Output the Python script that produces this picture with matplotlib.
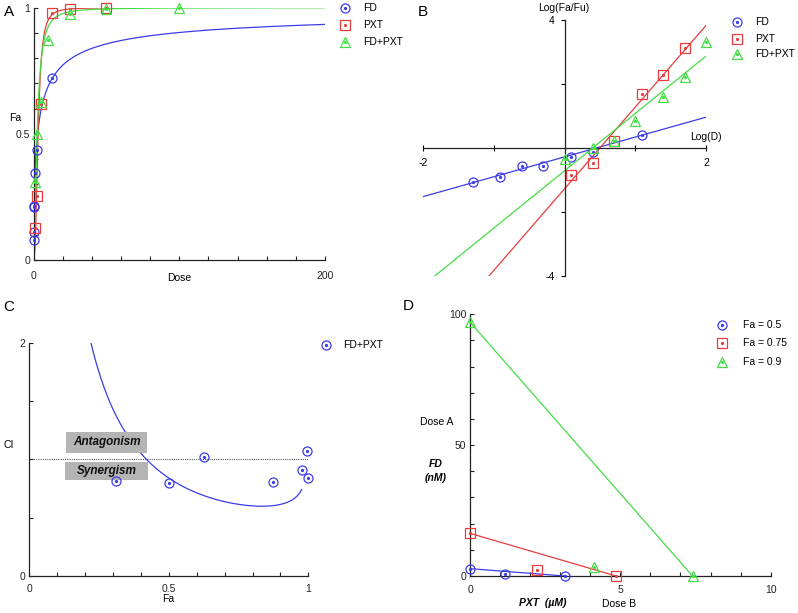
import numpy as np
import matplotlib
matplotlib.use("Agg")
import matplotlib.pyplot as plt
from matplotlib.lines import Line2D
from matplotlib.patches import Rectangle
from matplotlib.ticker import MultipleLocator, FixedLocator

plt.rcParams['font.family'] = ['Liberation Sans', 'DejaVu Sans']

W, H = 798, 613

# dose-effect data (FD in nM, PXT in uM, combination 1:1)
fd_dose = [0.05, 0.12, 0.25, 0.5, 1.25, 2.5, 12.5]
fd_fa = [0.078, 0.11, 0.21, 0.215, 0.345, 0.435, 0.72]
pxt_dose = [1.25, 2.5, 5, 12.5, 25, 50]
pxt_fa = [0.125, 0.253, 0.62, 0.98, 0.9947, 0.99925]
combo_dose = [1, 2.5, 5, 10, 25, 50, 100]
combo_fa = [0.31, 0.50, 0.625, 0.873, 0.976, 0.994, 0.9995]
combo_ci = [0.814, 0.80, 1.017, 0.806, 0.909, 1.074, 0.843]

# median-effect fits (Dm, m)
fd_fit = (2.8, 0.62)
pxt_fit = (3.15, 2.55)
combo_fit = (2.49, 1.79)

# isobologram
iso_labels = ['Fa = 0.5', 'Fa = 0.75', 'Fa = 0.9']
iso_fd_alone = [2.8, 16.3, 97]
iso_pxt_alone = [3.15, 4.86, 7.4]
iso_pxt_combo = [1.18, 2.24, 4.14]
iso_fd_combo = [0.76, 2.3, 3.6]

BLUE = '#3c3ce6'
RED = '#e83c3c'
GREEN = '#44dd44'
series = [('FD', 'o', BLUE), ('PXT', 's', RED), ('FD+PXT', '^', GREEN)]
FS = 7.5

fig = plt.figure(figsize=(W / 100, H / 100), dpi=100)


def make_ax(x0, x1, ybot, ytop):
    return fig.add_axes([x0 / W, 1 - ybot / H, (x1 - x0) / W, (ybot - ytop) / H])


def ptext(x, y, s, **kw):
    kw.setdefault('fontsize', FS)
    kw.setdefault('ha', 'center')
    kw.setdefault('va', 'center')
    fig.text(x / W, 1 - y / H, s, **kw)


def pts(ax, x, y, marker, color, ms=6.5):
    ax.plot(x, y, ls='none', marker=marker, ms=ms, mfc='none', mec=color,
            mew=0.9, clip_on=False, zorder=5)
    ax.plot(x, y, ls='none', marker='o', ms=1.3, color=color, clip_on=False, zorder=5)


def legend(items, xm, xt, ys):
    for (lab, mk, col), y in zip(items, ys):
        fy = 1 - y / H
        fig.add_artist(Line2D([xm / W], [fy], marker=mk, ms=6.5, mfc='none', mec=col,
                              mew=0.9, ls='none', transform=fig.transFigure))
        fig.add_artist(Line2D([xm / W], [fy], marker='o', ms=1.3, color=col,
                              ls='none', transform=fig.transFigure))
        ptext(xt, y, lab, ha='left')


def style(ax):
    ax.spines['top'].set_visible(False)
    ax.spines['right'].set_visible(False)
    for s in ['left', 'bottom']:
        ax.spines[s].set_linewidth(0.9)
        ax.spines[s].set_color('#222222')
    ax.tick_params(which='both', direction='in', length=3, width=0.8, labelsize=FS,
                   colors='#222222')


def fa_curve(dose, fit):
    dm, m = fit
    return 1.0 / (1.0 + (dm / dose) ** m)


# ---------------- A: dose-effect curves
axA = make_ax(33.5, 325, 260, 7.7)
style(axA)
axA.set_xlim(0, 200)
axA.set_ylim(0, 1)
for (dose, fa, fit, dmax), (lab, mk, col) in zip(
        [(fd_dose, fd_fa, fd_fit, 200), (pxt_dose, pxt_fa, pxt_fit, 57),
         (combo_dose, combo_fa, combo_fit, 200)], series):
    d = np.geomspace(1e-4, dmax, 800)
    axA.plot(d, fa_curve(d, fit), color=col, lw=0.9)
for (dose, fa), (lab, mk, col) in zip([(fd_dose, fd_fa), (pxt_dose, pxt_fa),
                                       (combo_dose, combo_fa)], series):
    pts(axA, dose, fa, mk, col)
axA.set_xticks([0, 200])
axA.set_xticklabels(['0', '200'])
axA.xaxis.set_minor_locator(MultipleLocator(20))
axA.set_yticks([0, 0.5, 1])
axA.set_yticklabels(['0', '0.5', '1'])
axA.yaxis.set_minor_locator(MultipleLocator(0.1))
axA.tick_params(axis='x', pad=8)
axA.tick_params(axis='y', pad=2.5)
ptext(179, 278, 'Dose')
ptext(15, 118, 'Fa')
legend(series, 345, 363, [8.3, 25, 41.7])
ptext(9, 12, 'A', fontsize=11)

# ---------------- B: median-effect plot
axB = make_ax(423.3, 706, 276, 20)
axB.set_xlim(-2, 2)
axB.set_ylim(-4, 4)
for s in ['top', 'right']:
    axB.spines[s].set_visible(False)
for s in ['left', 'bottom']:
    axB.spines[s].set_position('zero')
    axB.spines[s].set_linewidth(0.9)
    axB.spines[s].set_color('#222222')
xl = np.linspace(-2, 2, 50)
for fit, (lab, mk, col) in zip([fd_fit, pxt_fit, combo_fit], series):
    dm, m = fit
    axB.plot(xl, m * xl - m * np.log10(dm), color=col, lw=0.9)
for (dose, fa), (lab, mk, col) in zip([(fd_dose, fd_fa), (pxt_dose, pxt_fa),
                                       (combo_dose, combo_fa)], series):
    fa = np.array(fa)
    pts(axB, np.log10(dose), np.log10(fa / (1 - fa)), mk, col)
axB.set_xticks([-2, -1, 1, 2])
axB.set_xticklabels(['-2', '', '', '2'])
axB.set_yticks([-4, -2, 2, 4])
axB.set_yticklabels(['-4', '', '', '4'])
axB.tick_params(axis='x', direction='inout', length=5, width=0.8, labelsize=FS, pad=5)
axB.tick_params(axis='y', direction='out', length=3, width=0.8, labelsize=FS, pad=4)
ptext(564, 8, 'Log(Fa/Fu)')
ptext(706, 137, 'Log(D)')
legend(series, 737, 755, [22, 38.5, 54])
ptext(423, 12, 'B', fontsize=11)

# ---------------- C: combination index plot
axC = make_ax(29.3, 308.3, 576, 342.7)
style(axC)
axC.set_xlim(0, 1)
axC.set_ylim(0, 2)
fa_c = np.linspace(0.15, 0.976, 400)
r = fa_c / (1 - fa_c)
d_comb = combo_fit[0] * r ** (1 / combo_fit[1])
d_fd = fd_fit[0] * r ** (1 / fd_fit[1])
d_pxt = pxt_fit[0] * r ** (1 / pxt_fit[1])
ci_curve = 0.5 * d_comb / d_fd + 0.5 * d_comb / d_pxt
axC.plot(fa_c, ci_curve, color=BLUE, lw=0.9, zorder=2)
axC.plot([0, 1], [1, 1], color='#555555', lw=0.8, ls=(0, (1, 1)), zorder=1)
pts(axC, combo_fa, combo_ci, 'o', BLUE)
axC.add_patch(Rectangle((0.1315, 1.054), 0.29, 0.18, facecolor='#b4b4b4',
                        edgecolor='none', zorder=3))
axC.add_patch(Rectangle((0.128, 0.823), 0.297, 0.154, facecolor='#b4b4b4',
                        edgecolor='none', zorder=3))
axC.text(0.277, 1.145, 'Antagonism', ha='center', va='center', fontsize=8.5,
         style='italic', weight='bold', color='#111111', zorder=4)
axC.text(0.277, 0.90, 'Synergism', ha='center', va='center', fontsize=8.5,
         style='italic', weight='bold', color='#111111', zorder=4)
axC.set_xticks([0, 0.5, 1])
axC.set_xticklabels(['0', '0.5', '1'])
axC.xaxis.set_minor_locator(MultipleLocator(0.1))
axC.set_yticks([0, 2])
axC.set_yticklabels(['0', '2'])
axC.yaxis.set_minor_locator(MultipleLocator(0.5))
axC.tick_params(axis='x', pad=5.5)
axC.tick_params(axis='y', pad=3)
ptext(168, 599, 'Fa')
ptext(9, 445, 'CI')
legend([('FD+PXT', 'o', BLUE)], 326, 343, [345])
ptext(9, 307, 'C', fontsize=11)

# ---------------- D: isobologram
axD = make_ax(470, 770.7, 576, 314.3)
style(axD)
axD.set_xlim(0, 10)
axD.set_ylim(0, 100)
iso_series = [(lab, mk, col) for lab, (_, mk, col) in zip(iso_labels, series)]
for i, (lab, mk, col) in enumerate(iso_series):
    axD.plot([0, iso_pxt_alone[i]], [iso_fd_alone[i], 0], color=col, lw=0.9)
    pts(axD, [0, iso_pxt_alone[i]], [iso_fd_alone[i], 0], mk, col)
    pts(axD, [iso_pxt_combo[i]], [iso_fd_combo[i]], mk, col)
axD.set_xticks([0, 5, 10])
axD.set_xticklabels(['0', '5', '10'])
axD.xaxis.set_minor_locator(MultipleLocator(1))
axD.set_yticks([0, 50, 100])
axD.set_yticklabels(['0', '50', '100'])
axD.yaxis.set_minor_locator(MultipleLocator(10))
axD.tick_params(axis='x', pad=6.5)
axD.tick_params(axis='y', pad=2.5)
ptext(437, 422, 'Dose A')
ptext(436, 464, 'FD', style='italic', weight='bold')
ptext(436, 478, '(nM)', style='italic', weight='bold')
ptext(543, 603, 'PXT  (µM)', style='italic', weight='bold')
ptext(619, 604, 'Dose B')
legend(iso_series, 722, 743, [325, 342.7, 361.7])
ptext(408, 306, 'D', fontsize=11)

fig.savefig('out.png', dpi=100)
